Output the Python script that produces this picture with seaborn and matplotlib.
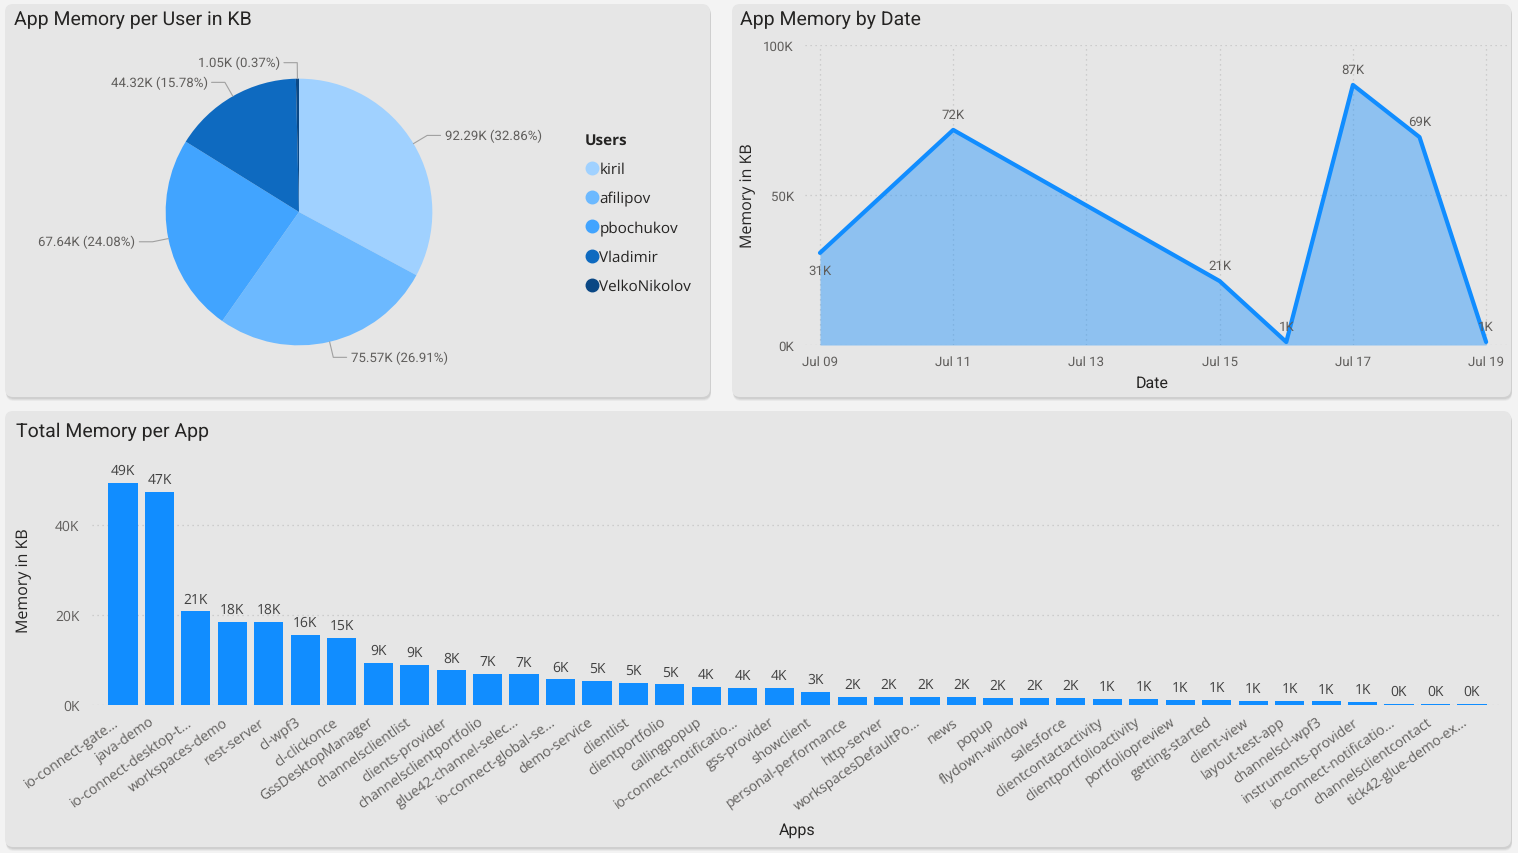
import matplotlib
matplotlib.use("Agg")
import matplotlib.pyplot as plt
import matplotlib.dates as mdates
from matplotlib.lines import Line2D
from matplotlib.patches import FancyBboxPatch
import numpy as np
import pandas as pd
import seaborn as sns

# --- data -------------------------------------------------------------
users = ["kiril", "afilipov", "pbochukov", "Vladimir", "VelkoNikolov"]
user_mem = [92290, 75570, 67640, 44320, 1050]
user_colors = ["#A0D1FF", "#6CB9FF", "#41A4FF", "#0E6AC0", "#0A4784"]

dates = ["2023-07-09", "2023-07-11", "2023-07-15", "2023-07-16",
         "2023-07-17", "2023-07-18", "2023-07-19"]
date_mem = [30700, 71700, 21300, 1000, 86700, 69300, 1000]

apps = ["io-connect-gate...", "java-demo", "io-connect-desktop-t...", "workspaces-demo",
        "rest-server", "cl-wpf3", "cl-clickonce", "GssDesktopManager",
        "channelsclientlist", "clients-provider", "channelsclientportfolio",
        "glue42-channel-selec...", "io-connect-global-se...", "demo-service",
        "clientlist", "clientportfolio", "callingpopup", "io-connect-notificatio...",
        "gss-provider", "showclient", "personal-performance", "http-server",
        "workspacesDefaultPo...", "news", "popup", "flydown-window", "salesforce",
        "clientcontactactivity", "clientportfolioactivity", "portfoliopreview",
        "getting-started", "client-view", "layout-test-app", "channelscl-wpf3",
        "instruments-provider", "io-connect-notificatio...", "channelsclientcontact",
        "tick42-glue-demo-ex..."]
app_mem = [49400, 47400, 20800, 18400, 18400, 15600, 15000, 9300, 8900, 7700,
           7000, 6800, 5700, 5400, 4900, 4600, 4000, 3800, 3700, 3000,
           1800, 1800, 1700, 1700, 1600, 1600, 1550, 1400, 1300, 1200,
           1100, 1000, 900, 800, 700, 300, 300, 200]

# --- style --------------------------------------------------------------
sns.set_style("white", {"axes.facecolor": "none"})
plt.rcParams["font.family"] = ["Open Sans", "DejaVu Sans"]
plt.rcParams["text.hinting"] = "no_hinting"
BLUE = "#118DFF"
DARK = "#252423"
GREY = "#605E5C"
PANEL = "#E6E6E6"
DIN = ["Roboto", "DejaVu Sans"]
W, H = 1518, 854


def box(x0, y0, x1, y1):
    return [x0 / W, 1 - y1 / H, (x1 - x0) / W, (y1 - y0) / H]


def kfmt(v, pos=None):
    return f"{v / 1000:.0f}K"


fig = plt.figure(figsize=(W / 100, H / 100), dpi=100, facecolor="#F3F3F3")

# panel backgrounds
bg = fig.add_axes([0, 0, 1, 1], zorder=-10)
bg.set_xlim(0, W)
bg.set_ylim(H, 0)
bg.axis("off")
for x0, y0, x1, y1 in [(5, 5, 710, 398), (732, 5, 1511, 398), (5, 412, 1511, 848)]:
    for k, a in [(4, 0.10), (3, 0.15), (2, 0.2)]:
        bg.add_patch(FancyBboxPatch((x0 + 1, y0 + k), x1 - x0, y1 - y0,
                                    boxstyle="round,pad=0,rounding_size=8",
                                    fc="#9a9a9a", ec="none", alpha=a))
    bg.add_patch(FancyBboxPatch((x0, y0), x1 - x0, y1 - y0,
                                boxstyle="round,pad=0,rounding_size=8",
                                fc=PANEL, ec="none"))

title_kw = dict(fontsize=14, color=DARK, family=DIN, va="center")
fig.text(14 / W, 1 - 20 / H, "App Memory per User in KB", **title_kw)
fig.text(740 / W, 1 - 20 / H, "App Memory by Date", **title_kw)
fig.text(16 / W, 1 - 432 / H, "Total Memory per App", **title_kw)

# --- pie ----------------------------------------------------------------
ax_pie = fig.add_axes(box(99, 33, 499, 393))
wedges, _ = ax_pie.pie(user_mem, colors=user_colors, startangle=90,
                       counterclock=False, radius=1,
                       wedgeprops=dict(linewidth=0, edgecolor="none"))
ax_pie.set_xlim(-1.5, 1.5)
ax_pie.set_ylim(-1.35, 1.35)
ax_pie.axis("off")

total = sum(user_mem)
for w, v in zip(wedges, user_mem):
    ang = np.deg2rad((w.theta1 + w.theta2) / 2)
    c, s = np.cos(ang), np.sin(ang)
    sgn = 1 if c > 0 else -1
    x1, y1 = 1.12 * c, 1.12 * s
    x2 = x1 + sgn * 0.1
    ax_pie.plot([c, x1, x2], [s, y1, y1], color="#A0A0A0", lw=0.8, clip_on=False)
    ax_pie.text(x2 + sgn * 0.03, y1, f"{v / 1000:.2f}K ({v / total * 100:.2f}%)",
                ha="left" if sgn > 0 else "right", va="center", fontsize=9.5,
                color=GREY, family=DIN)

handles = [Line2D([], [], marker="o", linestyle="", markersize=9,
                  markerfacecolor=c, markeredgecolor=c) for c in user_colors]
leg = fig.legend(handles, users, title="Users", loc="upper left",
                 bbox_to_anchor=(571 / W, 1 - 120 / H), frameon=False,
                 fontsize=11, title_fontsize=11, labelspacing=0.93,
                 handletextpad=0.05, handlelength=0.9, alignment="left",
                 labelcolor=DARK)
leg.get_title().set_fontweight("bold")
leg.get_title().set_color(DARK)

# --- line / area ----------------------------------------------------------
df_date = pd.DataFrame({"Date": pd.to_datetime(dates), "Memory": date_mem})
ax_line = fig.add_axes(box(805, 46, 1510, 346))
ax_line.fill_between(df_date["Date"], df_date["Memory"], color=BLUE, alpha=0.41, lw=0)
sns.lineplot(data=df_date, x="Date", y="Memory", color=BLUE, lw=3, ax=ax_line)
d0 = df_date["Date"].iloc[0]
d1 = df_date["Date"].iloc[-1]
ax_line.set_xlim(d0 - pd.Timedelta(hours=5.4), d1 + pd.Timedelta(hours=8.6))
ax_line.set_ylim(0, 100000)
ax_line.set_yticks([0, 50000, 100000])
ax_line.yaxis.set_major_formatter(plt.FuncFormatter(kfmt))
ax_line.xaxis.set_major_locator(mdates.DayLocator(bymonthday=[9, 11, 13, 15, 17, 19]))
ax_line.xaxis.set_major_formatter(mdates.DateFormatter("%b %d"))
ax_line.grid(True, color="#C4C4C4", linestyle=(0, (1, 3)), lw=0.9)
for sp in ax_line.spines.values():
    sp.set_visible(False)
ax_line.tick_params(axis="both", length=0, labelsize=9.5, colors=GREY)
ax_line.tick_params(axis="x", pad=7)
ax_line.tick_params(axis="y", pad=8)
for t in ax_line.get_xticklabels() + ax_line.get_yticklabels():
    t.set_family(DIN)
ax_line.set_ylabel("Memory in KB", fontsize=11.5, color=DARK)
ax_line.yaxis.set_label_coords(-0.0695, 0.5)
ax_line.set_xlabel("Date", fontsize=11.5, color=DARK, family=DIN)
ax_line.xaxis.set_label_coords(0.492, -0.10)
for i, (d, v) in enumerate(zip(df_date["Date"], df_date["Memory"])):
    off, va = ((0, -8), "top") if i == 0 else ((0, 7), "bottom")
    ax_line.annotate(kfmt(v), (d, v), xytext=off, textcoords="offset points",
                     ha="center", va=va, fontsize=9.5, color=GREY,
                     family=DIN, annotation_clip=False)

# --- bars ---------------------------------------------------------------
idx = np.arange(len(apps))
ax_bar = fig.add_axes(box(92, 450, 1500, 706))
sns.barplot(x=idx, y=app_mem, color=BLUE, saturation=1, width=0.8, ax=ax_bar,
            linewidth=0)
ax_bar.set_xlim(-0.85, len(apps) - 1 + 0.77)
ax_bar.set_ylim(0, 56900)
ax_bar.set_yticks([0, 20000, 40000])
ax_bar.yaxis.set_major_formatter(plt.FuncFormatter(kfmt))
ax_bar.set_xticks(idx)
ax_bar.set_xticklabels([])
# rotated app names, anchored just left of each bar centre
for i, name in zip(idx, apps):
    ax_bar.annotate(name, xy=(i, 0), xycoords=("data", "axes fraction"),
                    xytext=(-7, -7), textcoords="offset points", rotation=35,
                    ha="right", va="top", rotation_mode="anchor",
                    fontsize=10, color=GREY, annotation_clip=False)
ax_bar.grid(True, axis="y", color="#C4C4C4", linestyle=(0, (1, 3)), lw=0.9)
ax_bar.set_axisbelow(True)
for sp in ax_bar.spines.values():
    sp.set_visible(False)
ax_bar.tick_params(axis="both", length=0, colors=GREY)
ax_bar.tick_params(axis="y", labelsize=10, pad=9)
ax_bar.bar_label(ax_bar.containers[0], labels=[kfmt(v) for v in app_mem],
                 padding=4, fontsize=10, color="#404040")
ax_bar.set_ylabel("Memory in KB", fontsize=11.5, color=DARK)
ax_bar.yaxis.set_label_coords(-0.0426, 0.49)
ax_bar.set_xlabel("Apps", fontsize=11.5, color=DARK, family=DIN)
ax_bar.xaxis.set_label_coords(0.501, -0.457)

fig.savefig("out.png", dpi=100, facecolor=fig.get_facecolor())
